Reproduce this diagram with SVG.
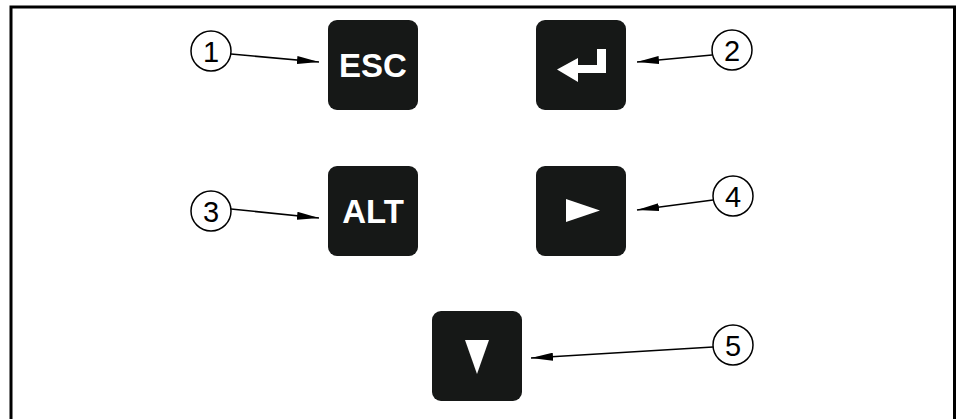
<svg xmlns="http://www.w3.org/2000/svg" width="957" height="419" viewBox="0 0 957 419">
<defs>
<style>
.key{fill:#161817;}
.lbl{font-family:"Liberation Sans",Arial,sans-serif;font-weight:bold;font-size:33px;fill:#fff;text-anchor:middle;}
.glyph{fill:#fff;}
.callout{fill:#fff;stroke:#000;stroke-width:1.5;}
.num{font-family:"Liberation Sans",Arial,sans-serif;font-size:29px;fill:#000;text-anchor:middle;}
.conn{stroke:#000;stroke-width:1.6;fill:none;marker-end:url(#ah);}
</style>
<marker id="ah" viewBox="0 0 22 8" refX="22" refY="4" markerWidth="22" markerHeight="8" markerUnits="userSpaceOnUse" orient="auto">
<path d="M0,0 L22,4 L0,8 Z" fill="#000"/>
</marker>
</defs>
<rect width="957" height="419" fill="#fff"/>
<path d="M11,419 V7 H954.5 V419" fill="none" stroke="#000" stroke-width="3"/>

<g id="key-esc">
<rect class="key" x="328" y="20" width="90" height="90" rx="9"/>
<text class="lbl" x="373" y="77">ESC</text>
</g>
<g id="key-enter">
<rect class="key" x="536" y="20" width="90" height="90" rx="9"/>
<path class="glyph" d="M597,49 H606 V73 H578 V82 L557,69.5 L578,58 V65 H597 Z"/>
</g>
<g id="key-alt">
<rect class="key" x="328" y="166" width="90" height="90" rx="9"/>
<text class="lbl" x="373" y="223">ALT</text>
</g>
<g id="key-right">
<rect class="key" x="536" y="166" width="90" height="90" rx="9"/>
<path class="glyph" d="M566,199 L600,210.5 L566,222 Z"/>
</g>
<g id="key-down">
<rect class="key" x="432" y="311" width="90" height="90" rx="9"/>
<path class="glyph" d="M465,340 L489,340 L477,374 Z"/>
</g>

<g id="callout-1">
<circle class="callout" cx="211" cy="51" r="20"/>
<text class="num" x="211" y="61.5">1</text>
</g>
<g id="callout-2">
<circle class="callout" cx="732" cy="50" r="20"/>
<text class="num" x="732" y="60.5">2</text>
</g>
<g id="callout-3">
<circle class="callout" cx="211" cy="211" r="20"/>
<text class="num" x="211" y="221.5">3</text>
</g>
<g id="callout-4">
<circle class="callout" cx="733" cy="196" r="20"/>
<text class="num" x="733" y="206.5">4</text>
</g>
<g id="callout-5">
<circle class="callout" cx="733" cy="345" r="20"/>
<text class="num" x="733" y="355.5">5</text>
</g>

<g id="connectors">
<line class="conn" x1="231" y1="54" x2="319" y2="62"/>
<line class="conn" x1="712" y1="55" x2="637" y2="62"/>
<line class="conn" x1="231" y1="209" x2="319" y2="218"/>
<line class="conn" x1="713" y1="200" x2="637" y2="210"/>
<line class="conn" x1="713" y1="347" x2="531" y2="358"/>
</g>
</svg>
